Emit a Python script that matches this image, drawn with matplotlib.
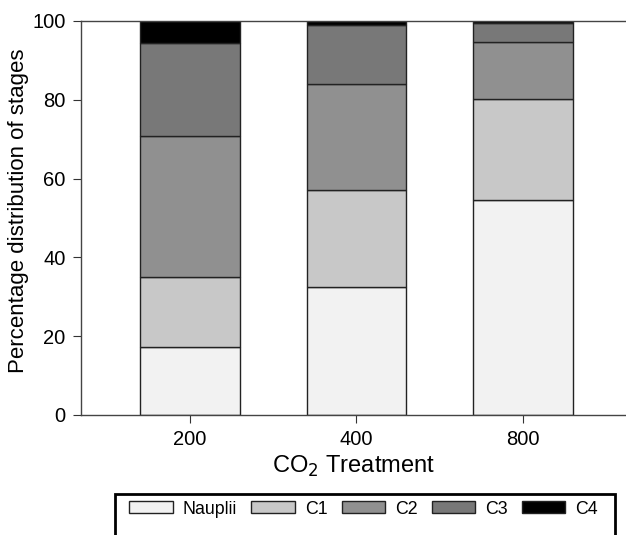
import matplotlib
matplotlib.use('Agg')
import matplotlib.pyplot as plt
from matplotlib.patches import Rectangle
import numpy as np

plt.rcParams['font.family'] = ['Liberation Sans', 'DejaVu Sans']

# stage percentages per CO2 treatment
treatments = ['200', '400', '800']
stages = ['Nauplii', 'C1', 'C2', 'C3', 'C4']
nauplii = [17.3, 32.6, 54.6]
c1 = [17.8, 24.4, 25.7]
c2 = [35.7, 26.9, 14.4]
c3 = [23.5, 15.1, 4.7]
c4 = [5.7, 1.0, 0.6]
colors = ['#f2f2f2', '#c8c8c8', '#909090', '#787878', '#000000']

fig = plt.figure(figsize=(6.26, 5.35), dpi=100)
ax = fig.add_axes([81 / 626, 1 - 415 / 535, 1 - 81 / 626, (415 - 21) / 535])

x = np.arange(len(treatments))
bottom = np.zeros(len(treatments))
for name, vals, col in zip(stages, [nauplii, c1, c2, c3, c4], colors):
    ax.bar(x, vals, width=0.6, bottom=bottom, color=col, edgecolor='#222222',
           linewidth=1.0, label=name)
    bottom += np.array(vals)

ax.set_xlim(-0.656, 2.62)
ax.set_ylim(0, 100)
ax.set_xticks(x)
ax.set_xticklabels(treatments)
ax.set_yticks([0, 20, 40, 60, 80, 100])
ax.tick_params(labelsize=14.5, direction='out', length=6, pad=5, color='#333333')
ax.spines['right'].set_visible(False)
for s in ['left', 'top', 'bottom']:
    ax.spines[s].set_color('#444444')
    ax.spines[s].set_linewidth(1.0)

ax.set_ylabel('Percentage distribution of stages', fontsize=16)
ax.yaxis.set_label_coords(-0.096, 0.518)
ax.set_xlabel('CO$_2$ Treatment', fontsize=17, labelpad=3)

# legend box (cut off at the bottom of the figure as in the original)
fig.patches.append(Rectangle((115 / 626, -0.05), 500 / 626, 0.0766 + 0.05,
                             transform=fig.transFigure, fill=False,
                             edgecolor='black', linewidth=2))
handles, labels = ax.get_legend_handles_labels()
fig.legend(handles, labels, loc='center left', ncol=5, frameon=False,
           bbox_to_anchor=(117 / 626, 1 - 509 / 535), fontsize=12.8,
           handlelength=2.45, handleheight=0.62, handletextpad=0.55,
           columnspacing=0.8, borderpad=0.2)

fig.savefig('out.png', dpi=100)
